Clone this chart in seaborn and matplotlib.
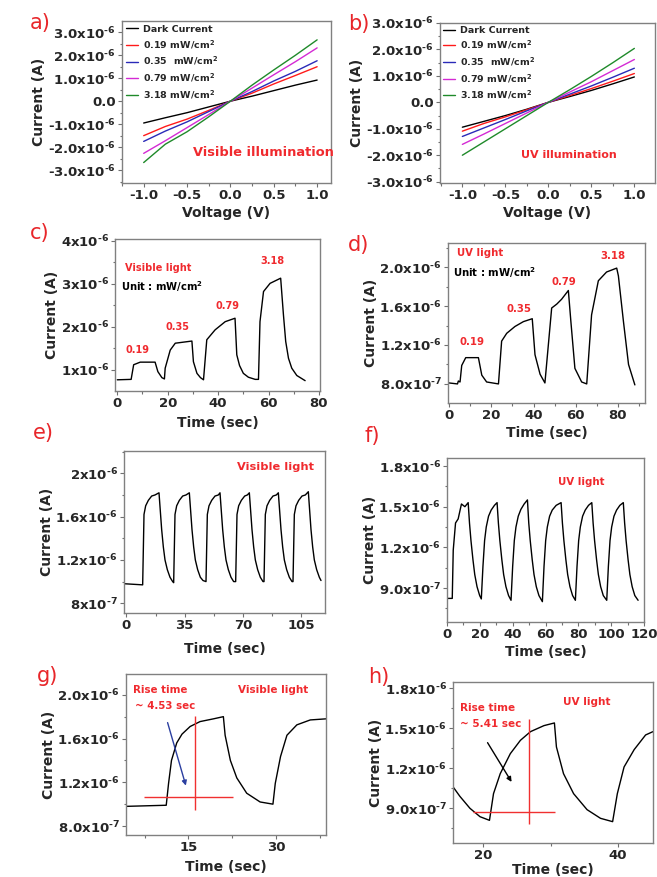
import matplotlib
matplotlib.use("Agg")
import matplotlib.pyplot as plt
import seaborn as sns
from matplotlib.ticker import AutoMinorLocator

# ---------------- settings ----------------
sns.set_style("ticks")
plt.rcParams['font.family'] = ['DejaVu Sans']
plt.rcParams['font.weight'] = 'bold'
plt.rcParams['mathtext.fontset'] = 'dejavusans'
plt.rcParams['mathtext.default'] = 'bf'
plt.rcParams['axes.unicode_minus'] = False

RED = '#f02a2e'
W, H = 657, 877

# ---------------- data (current in units of 1e-6 A) ----------------
voltage = [-1.0, -0.75, -0.5, -0.25, 0.0, 0.25, 0.5, 0.75, 1.0]
iv_labels = ["Dark Current", "0.19 mW/cm$^2$", "0.35  mW/cm$^2$",
             "0.79 mW/cm$^2$", "3.18 mW/cm$^2$"]
iv_colors = ['black', '#ff1a1a', '#2a2ab8', '#d42ad4', '#1f8a2a']

vis_dark = [-0.95, -0.72, -0.50, -0.25, 0.0, 0.22, 0.46, 0.70, 0.92]
vis_019 = [-1.50, -1.10, -0.78, -0.40, 0.0, 0.35, 0.75, 1.12, 1.50]
vis_035 = [-1.75, -1.30, -0.90, -0.45, 0.0, 0.42, 0.88, 1.30, 1.76]
vis_079 = [-2.27, -1.72, -1.15, -0.58, 0.0, 0.57, 1.15, 1.72, 2.32]
vis_318 = [-2.67, -1.87, -1.33, -0.68, 0.0, 0.70, 1.36, 2.00, 2.67]

uv_dark = [-0.94, -0.72, -0.50, -0.26, 0.0, 0.22, 0.45, 0.70, 0.96]
uv_019 = [-1.09, -0.80, -0.55, -0.28, 0.0, 0.26, 0.52, 0.80, 1.09]
uv_035 = [-1.29, -0.97, -0.65, -0.32, 0.0, 0.31, 0.62, 0.95, 1.29]
uv_079 = [-1.59, -1.20, -0.80, -0.40, 0.0, 0.39, 0.78, 1.20, 1.62]
uv_318 = [-2.00, -1.50, -1.00, -0.50, 0.0, 0.48, 0.98, 1.50, 2.04]

c_time = [0, 5.5, 6.5, 9.1, 15.0, 16.1, 17.7, 18.7, 19.0, 21.0, 23.0, 29.6,
          30.2, 31.6, 33.0, 34.2, 35.5, 38.8, 42.8, 46.7, 47.4, 48.5, 50.0,
          52.0, 54.7, 56.0, 56.6, 58.0, 60.6, 64.8, 65.9, 66.8, 67.9, 69.2,
          71.2, 74.5]
c_current = [0.77, 0.78, 1.12, 1.18, 1.18, 0.96, 0.82, 0.79, 1.04, 1.46, 1.62,
             1.67, 1.19, 0.92, 0.82, 0.77, 1.70, 1.93, 2.12, 2.20, 1.35, 1.10,
             0.92, 0.83, 0.78, 0.78, 2.12, 2.82, 3.01, 3.13, 2.28, 1.66, 1.27,
             1.04, 0.87, 0.75]
c_levels = ["0.19", "0.35", "0.79", "3.18"]

d_time = [0, 4.0, 4.4, 5.2, 6.0, 7.9, 13.9, 15.5, 17.8, 23.4, 24.9, 27.3,
          31.2, 35.2, 39.4, 40.7, 43.1, 45.4, 48.6, 51.0, 53.3, 56.5, 57.7,
          59.6, 62.8, 65.2, 67.5, 70.7, 74.6, 79.4, 80.2, 82.6, 85.0, 88.0]
d_current = [0.81, 0.80, 0.83, 0.82, 0.99, 1.07, 1.07, 0.89, 0.82, 0.80, 1.24,
             1.32, 1.39, 1.44, 1.47, 1.10, 0.90, 0.81, 1.58, 1.62, 1.67, 1.76,
             1.44, 0.96, 0.82, 0.80, 1.51, 1.86, 1.95, 1.99, 1.91, 1.44, 1.00,
             0.79]

e_time = [-1.0,
          9.8, 10.6, 11.6, 13.2, 15.2, 17.2, 19.6, 21.2, 22.2, 23.2, 24.6, 26.2, 27.8,
          28.4, 29.2, 30.2, 31.8, 33.8, 35.8, 37.8, 39.4, 40.4, 41.4, 42.8, 44.4, 46.0,
          47.8, 48.6, 49.6, 51.2, 53.2, 55.2, 56.2, 57.8, 58.8, 59.8, 61.2, 62.8, 64.4,
          65.6, 66.4, 67.4, 69.0, 71.0, 72.6, 73.8, 75.4, 76.4, 77.4, 78.8, 80.4, 82.0,
          82.6, 83.4, 84.4, 86.0, 88.0, 90.0, 91.2, 92.8, 93.8, 94.8, 96.2, 97.8, 99.4,
          100.0, 100.8, 101.8, 103.4, 105.4, 107.4, 109.2, 110.8, 111.8, 112.8, 114.2,
          115.8, 116.8]
e_current = [0.98,
             0.97, 1.62, 1.70, 1.75, 1.79, 1.80, 1.82, 1.48, 1.32, 1.20, 1.11, 1.04, 1.00,
             0.99, 1.62, 1.70, 1.75, 1.79, 1.80, 1.82, 1.48, 1.32, 1.20, 1.11, 1.04, 1.01,
             1.00, 1.62, 1.70, 1.75, 1.79, 1.80, 1.82, 1.48, 1.32, 1.20, 1.11, 1.04, 1.00,
             1.00, 1.62, 1.70, 1.75, 1.79, 1.80, 1.82, 1.48, 1.32, 1.20, 1.11, 1.04, 1.00,
             1.00, 1.62, 1.70, 1.75, 1.79, 1.80, 1.82, 1.48, 1.32, 1.20, 1.11, 1.04, 1.00,
             1.00, 1.62, 1.70, 1.75, 1.79, 1.80, 1.83, 1.48, 1.32, 1.20, 1.11,
             1.04, 1.01]

f_time = [0, 3.2,
          3.8, 5.2, 6.8, 8.8, 10.9, 12.9, 13.7, 14.6, 15.8, 16.9, 18.3, 19.9, 20.9,
          21.9, 22.9, 23.9, 25.3, 26.9, 28.9, 30.5, 31.3, 32.2, 33.4, 34.5, 35.9, 37.5, 39.0,
          40.0, 41.0, 42.0, 43.4, 45.0, 47.0, 49.0, 49.8, 50.7, 51.9, 53.0, 54.4, 56.0, 58.1,
          59.1, 60.1, 61.1, 62.5, 64.1, 66.5, 69.5, 70.3, 71.2, 72.4, 73.5, 74.9, 76.5, 78.2,
          79.2, 80.2, 81.2, 82.6, 84.2, 86.2, 88.2, 89.0, 89.9, 91.1, 92.2, 93.6, 95.2, 97.3,
          98.3, 99.3, 100.3, 101.7, 103.3, 105.3, 107.4, 108.2, 109.1, 110.3, 111.4, 112.8,
          114.4, 116.4]
f_current = [0.824, 0.824,
             1.18, 1.38, 1.41, 1.52, 1.50, 1.53, 1.38, 1.25, 1.11, 1.00, 0.91, 0.845, 0.82,
             1.06, 1.25, 1.35, 1.43, 1.475, 1.51, 1.53, 1.38, 1.25, 1.11, 1.00, 0.91, 0.845, 0.81,
             1.06, 1.25, 1.35, 1.43, 1.48, 1.52, 1.55, 1.38, 1.25, 1.11, 1.00, 0.91, 0.845, 0.80,
             1.06, 1.25, 1.35, 1.43, 1.475, 1.51, 1.53, 1.38, 1.25, 1.11, 1.00, 0.91, 0.845, 0.81,
             1.06, 1.25, 1.35, 1.43, 1.475, 1.51, 1.53, 1.38, 1.25, 1.11, 1.00, 0.91, 0.845, 0.81,
             1.06, 1.25, 1.35, 1.43, 1.475, 1.51, 1.53, 1.38, 1.25, 1.11, 1.00, 0.91,
             0.845, 0.81]

g_time = [4.4, 11.2, 11.6, 12.1, 13.0, 13.9, 15.3, 17.0, 19.3, 21.0, 21.3,
          22.2, 23.3, 25.0, 27.3, 29.5, 29.9, 30.8, 31.9, 33.6, 35.9, 38.6]
g_current = [0.98, 0.99, 1.19, 1.40, 1.56, 1.64, 1.71, 1.755, 1.78, 1.80,
             1.63, 1.40, 1.24, 1.10, 1.02, 1.00, 1.19, 1.435, 1.63, 1.725,
             1.77, 1.78]
g_base, g_base_t = 1.07, (7.4, 22.7)
g_rise_t, g_rise_i = 16.15, (0.95, 1.81)
g_arrow = ((11.3, 1.77), (14.7, 1.145))

h_time = [15.5, 16.5, 18.0, 19.5, 20.9, 21.5, 22.5, 24.0, 25.5, 27.0, 29.0,
          30.55, 30.85, 31.9, 33.4, 35.4, 37.4, 39.2, 39.9, 40.9, 42.4, 44.1,
          45.2]
h_current = [1.06, 0.99, 0.90, 0.837, 0.81, 1.01, 1.16, 1.31, 1.41, 1.475,
             1.52, 1.54, 1.36, 1.16, 1.01, 0.89, 0.825, 0.80, 1.01, 1.21,
             1.34, 1.45, 1.475]
h_base, h_base_t = 0.874, (18.4, 30.7)
h_rise_t, h_rise_i = 26.8, (0.782, 1.567)
h_arrow = ((20.4, 1.41), (24.4, 1.08))

# tick labels (hyphen U+2010 in the exponents, as in the original)
iv_xticks = [-1.0, -0.5, 0.0, 0.5, 1.0]
iv_yticks = [-3, -2, -1, 0, 1, 2, 3]
iv_yticklabels = ["-3.0x10$^{‐6}$", "-2.0x10$^{‐6}$", "-1.0x10$^{‐6}$", "0.0",
                  "1.0x10$^{‐6}$", "2.0x10$^{‐6}$", "3.0x10$^{‐6}$"]
c_yticks = [1, 2, 3, 4]
c_yticklabels = ["1x10$^{‐6}$", "2x10$^{‐6}$", "3x10$^{‐6}$", "4x10$^{‐6}$"]
d_yticks = [0.8, 1.2, 1.6, 2.0]
d_yticklabels = ["8.0x10$^{‐7}$", "1.2x10$^{‐6}$", "1.6x10$^{‐6}$", "2.0x10$^{‐6}$"]
e_yticks = [0.8, 1.2, 1.6, 2.0]
e_yticklabels = ["8x10$^{‐7}$", "1.2x10$^{‐6}$", "1.6x10$^{‐6}$", "2x10$^{‐6}$"]
f_yticks = [0.9, 1.2, 1.5, 1.8]
f_yticklabels = ["9.0x10$^{‐7}$", "1.2x10$^{‐6}$", "1.5x10$^{‐6}$", "1.8x10$^{‐6}$"]

# ---------------- helpers ----------------
fig = plt.figure(figsize=(6.57, 8.77), dpi=100)


def box(x0, y0, x1, y1):
    return fig.add_axes([x0 / W, 1 - y1 / H, (x1 - x0) / W, (y1 - y0) / H])


def ptext(x, y, s, **kw):
    kw.setdefault('va', 'center')
    kw.setdefault('fontweight', 'bold')
    fig.text(x / W, 1 - y / H, s, **kw)


def style(ax, xlabel, xticks, xlim, yticks, yticklabels, ylim, xfmt="{:g}", xpad=3):
    ax.set_xlim(xlim)
    ax.set_ylim(ylim)
    ax.set_xticks(xticks)
    ax.set_xticklabels([xfmt.format(v) for v in xticks])
    ax.set_yticks(yticks)
    ax.set_yticklabels(yticklabels)
    ax.xaxis.set_minor_locator(AutoMinorLocator(2))
    ax.yaxis.set_minor_locator(AutoMinorLocator(2))
    ax.tick_params(which='both', direction='out', color='#707070', width=0.8,
                   labelsize=9.5, pad=1.5)
    ax.tick_params(which='major', length=3)
    ax.tick_params(which='minor', length=1.8)
    for s in ax.spines.values():
        s.set_color('#808080')
        s.set_linewidth(1.0)
    ax.set_xlabel(xlabel, fontsize=10, fontweight='bold', labelpad=xpad)
    ax.set_ylabel("Current (A)", fontsize=10, fontweight='bold', labelpad=1)


# ---------------- a) and b): I-V curves ----------------
ax_a = box(122, 21, 331, 183)
for series, lab, col in zip([vis_dark, vis_019, vis_035, vis_079, vis_318],
                            iv_labels, iv_colors):
    sns.lineplot(x=voltage, y=series, ax=ax_a, color=col, lw=1.0, label=lab,
                 sort=False, estimator=None)
style(ax_a, "Voltage (V)", iv_xticks, (-1.25, 1.16), iv_yticks, iv_yticklabels,
      (-3.56, 3.49), xfmt="{:.1f}")
ax_a.legend(loc='upper left', frameon=False, fontsize=6.8, handlelength=1.3,
            handletextpad=0.5, labelspacing=0.45, borderpad=0.2, borderaxespad=0.2)

ax_b = box(440, 23, 655, 183)
for series, lab, col in zip([uv_dark, uv_019, uv_035, uv_079, uv_318],
                            iv_labels, iv_colors):
    sns.lineplot(x=voltage, y=series, ax=ax_b, color=col, lw=1.0, label=lab,
                 sort=False, estimator=None)
style(ax_b, "Voltage (V)", iv_xticks, (-1.26, 1.24), iv_yticks, iv_yticklabels,
      (-3.05, 3.0), xfmt="{:.1f}")
ax_b.legend(loc='upper left', frameon=False, fontsize=6.8, handlelength=1.3,
            handletextpad=0.5, labelspacing=0.42, borderpad=0.1, borderaxespad=0.2)

ptext(193, 153, "Visible illumination", color=RED, fontsize=9.4)
ptext(521, 155, "UV illumination", color=RED, fontsize=8)

# ---------------- c) and d): intensity steps ----------------
ax_c = box(115, 239, 320, 391)
sns.lineplot(x=c_time, y=c_current, ax=ax_c, color='black', lw=1.0,
             sort=False, estimator=None)
style(ax_c, "Time (sec)", [0, 20, 40, 60, 80], (-0.9, 80.4), c_yticks,
      c_yticklabels, (0.51, 4.04), xpad=4)
ptext(125, 268, "Visible light", color=RED, fontsize=7)
ptext(121, 287, "Unit : mW/cm$^2$", color='black', fontsize=7.2)
for (x, y), lab in zip([(138, 350), (178, 327), (227, 306), (272, 261)], c_levels):
    ptext(x, y, lab, color=RED, fontsize=7, ha='center')

ax_d = box(448, 243, 645, 403)
sns.lineplot(x=d_time, y=d_current, ax=ax_d, color='black', lw=1.0,
             sort=False, estimator=None)
style(ax_d, "Time (sec)", [0, 20, 40, 60, 80], (-0.5, 92.8), d_yticks,
      d_yticklabels, (0.604, 2.248))
ptext(457, 253, "UV light", color=RED, fontsize=7.3)
ptext(453, 273, "Unit : mW/cm$^2$", color='black', fontsize=7.3)
for (x, y), lab in zip([(472, 342), (519, 309), (564, 282), (613, 256)], c_levels):
    ptext(x, y, lab, color=RED, fontsize=7.3, ha='center')

# ---------------- e) and f): repeated cycles ----------------
ax_e = box(124, 451, 325, 613)
sns.lineplot(x=e_time, y=e_current, ax=ax_e, color='black', lw=1.0,
             sort=False, estimator=None)
style(ax_e, "Time (sec)", [0, 35, 70, 105], (-1.4, 119.2), e_yticks,
      e_yticklabels, (0.71, 2.206), xpad=7)
ptext(237, 467, "Visible light", color=RED, fontsize=8.2)

ax_f = box(447, 458, 644, 622)
sns.lineplot(x=f_time, y=f_current, ax=ax_f, color='black', lw=1.0,
             sort=False, estimator=None)
style(ax_f, "Time (sec)", [0, 20, 40, 60, 80, 100, 120], (0, 120), f_yticks,
      f_yticklabels, (0.65, 1.859))
ptext(558, 482, "UV light", color=RED, fontsize=7.4)

# ---------------- g) and h): rise time ----------------
ax_g = box(126, 674, 326, 835)
sns.lineplot(x=g_time, y=g_current, ax=ax_g, color='black', lw=1.0,
             sort=False, estimator=None)
style(ax_g, "Time (sec)", [15, 30], (4.3, 38.6), d_yticks, d_yticklabels,
      (0.718, 2.19), xpad=4)
ax_g.hlines(g_base, *g_base_t, color='#f03030', lw=1.0)
ax_g.vlines(g_rise_t, *g_rise_i, color='#f03030', lw=1.0)
ax_g.annotate("", xy=g_arrow[1], xytext=g_arrow[0],
              arrowprops=dict(arrowstyle='-|>', color='#2b3fa0', lw=1.0,
                              mutation_scale=7))
ptext(133, 690, "Rise time", color=RED, fontsize=7.4)
ptext(135, 706, "~ 4.53 sec", color=RED, fontsize=7.4)
ptext(238, 690, "Visible light", color=RED, fontsize=7.5)

ax_h = box(453, 682, 653, 843)
sns.lineplot(x=h_time, y=h_current, ax=ax_h, color='black', lw=1.0,
             sort=False, estimator=None)
style(ax_h, "Time (sec)", [20, 40], (15.48, 45.2), f_yticks, f_yticklabels,
      (0.64, 1.847), xpad=0.5)
ax_h.hlines(h_base, *h_base_t, color='#f03030', lw=1.0)
ax_h.vlines(h_rise_t, *h_rise_i, color='#f03030', lw=1.0)
ax_h.annotate("", xy=h_arrow[1], xytext=h_arrow[0],
              arrowprops=dict(arrowstyle='-|>', color='black', lw=1.0,
                              mutation_scale=7))
ptext(460, 708, "Rise time", color=RED, fontsize=7.5)
ptext(460, 724, "~ 5.41 sec", color=RED, fontsize=7.5)
ptext(563, 702, "UV light", color=RED, fontsize=7.6)

# ---------------- panel letters ----------------
for (x, y), lab in zip([(40, 23), (359, 24), (40, 233), (359, 245),
                        (43, 433), (372, 436), (48, 676), (379, 677)],
                       ["a)", "b)", "c)", "d)", "e)", "f)", "g)", "h)"]):
    ptext(x, y, lab, color='#e8262a', fontsize=15, fontweight='normal', ha='center')

fig.savefig("out.png", dpi=100)
